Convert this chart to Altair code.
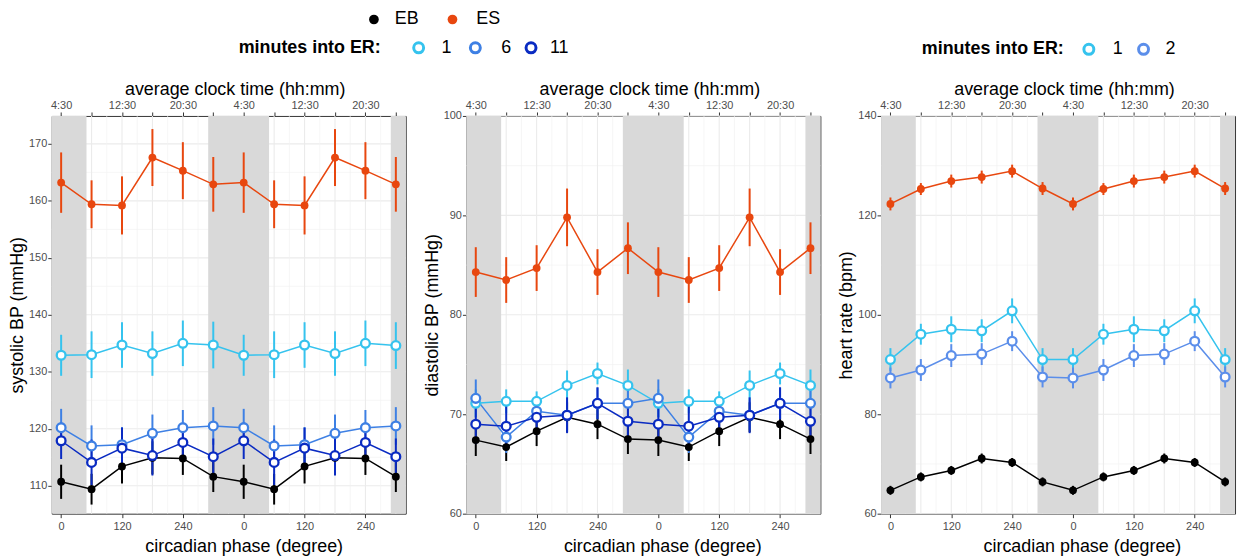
import altair as alt
import pandas as pd

# ---------------- data ----------------
PHASE = [0, 60, 120, 180, 240, 300, 360, 420, 480, 540, 600, 660]

# systolic BP (mmHg)
SYS_EB = [110.7, 109.4, 113.4, 114.9, 114.8, 111.6, 110.7, 109.4, 113.4, 114.9, 114.8, 111.6]
SYS_EB_ERR = [3.0, 2.7, 3.0, 2.9, 2.9, 2.7, 3.0, 2.7, 3.0, 2.9, 2.9, 2.7]
SYS_ES = [163.2, 159.4, 159.2, 167.6, 165.3, 162.9, 163.2, 159.4, 159.2, 167.6, 165.3, 162.9]
SYS_ES_ERR = [5.3, 4.2, 5.1, 5.0, 5.0, 4.8, 5.3, 4.2, 5.1, 5.0, 5.0, 4.8]
SYS_M1 = [132.9, 133.0, 134.7, 133.2, 135.0, 134.7, 132.9, 133.0, 134.7, 133.2, 135.0, 134.6]
SYS_M1_ERR = [3.6, 4.1, 4.0, 3.9, 4.0, 4.1, 3.6, 4.1, 4.0, 3.9, 4.0, 4.1]
SYS_M6 = [120.2, 117.0, 117.2, 119.2, 120.2, 120.5, 120.2, 117.0, 117.2, 119.2, 120.2, 120.5]
SYS_M6_ERR = [3.3, 3.6, 3.1, 3.3, 3.1, 3.3, 3.3, 3.6, 3.1, 3.3, 3.1, 3.3]
SYS_M11 = [117.9, 114.1, 116.6, 115.3, 117.6, 115.1, 117.9, 114.1, 116.6, 115.3, 117.6, 115.1]
SYS_M11_ERR = [3.2, 4.0, 3.6, 3.5, 3.3, 3.2, 3.2, 4.0, 3.6, 3.5, 3.3, 3.2]

# diastolic BP (mmHg)
DIA_EB = [67.4, 66.7, 68.3, 69.7, 69.0, 67.5, 67.4, 66.7, 68.3, 69.7, 69.0, 67.5]
DIA_EB_ERR = [1.6, 1.4, 1.5, 1.5, 1.5, 1.5, 1.6, 1.4, 1.5, 1.5, 1.5, 1.5]
DIA_ES = [84.3, 83.5, 84.7, 89.8, 84.3, 86.7, 84.3, 83.5, 84.7, 89.8, 84.3, 86.7]
DIA_ES_ERR = [2.5, 2.3, 2.3, 2.9, 2.3, 2.6, 2.5, 2.3, 2.3, 2.9, 2.3, 2.6]
DIA_M1 = [71.1, 71.3, 71.3, 72.9, 74.1, 72.9, 71.1, 71.3, 71.3, 72.9, 74.1, 72.9]
DIA_M1_ERR = [1.4, 1.2, 1.0, 1.5, 1.1, 1.6, 1.4, 1.2, 1.0, 1.5, 1.1, 1.6]
DIA_M6 = [71.6, 67.7, 70.3, 69.9, 71.1, 71.1, 71.6, 67.7, 70.3, 69.9, 71.1, 71.1]
DIA_M6_ERR = [1.9, 1.6, 1.2, 1.5, 1.6, 1.6, 1.9, 1.6, 1.2, 1.5, 1.6, 1.6]
DIA_M11 = [69.0, 68.8, 69.7, 69.9, 71.1, 69.3, 69.0, 68.8, 69.7, 69.9, 71.1, 69.3]
DIA_M11_ERR = [2.0, 2.2, 1.8, 1.8, 1.6, 1.8, 2.0, 2.2, 1.8, 1.8, 1.6, 1.8]

# heart rate (bpm)
HR_EB = [64.7, 67.4, 68.7, 71.1, 70.3, 66.4, 64.7, 67.4, 68.7, 71.1, 70.3, 66.4]
HR_EB_ERR = [0.9, 0.9, 0.9, 1.0, 0.9, 0.9, 0.9, 0.9, 0.9, 1.0, 0.9, 0.9]
HR_ES = [122.3, 125.3, 126.9, 127.7, 128.9, 125.4, 122.3, 125.3, 126.9, 127.7, 128.9, 125.4]
HR_ES_ERR = [1.3, 1.2, 1.3, 1.3, 1.3, 1.3, 1.3, 1.2, 1.3, 1.3, 1.3, 1.3]
HR_M1 = [91.0, 96.1, 97.1, 96.8, 100.8, 91.0, 91.0, 96.1, 97.1, 96.8, 100.8, 91.0]
HR_M1_ERR = [2.3, 2.1, 2.6, 2.3, 2.5, 2.3, 2.3, 2.1, 2.6, 2.3, 2.5, 2.3]
HR_M2 = [87.3, 88.9, 91.8, 92.1, 94.7, 87.5, 87.3, 88.9, 91.8, 92.1, 94.7, 87.5]
HR_M2_ERR = [2.1, 2.2, 2.3, 2.2, 2.0, 2.1, 2.1, 2.2, 2.3, 2.2, 2.0, 2.1]

# shaded (night) periods, in circadian phase degrees
SHADE_START = [-70, 290, 650]
SHADE_END = [50, 410, 770]

# axis ticks / labels
BOTTOM_TICKS = [0, 120, 240, 360, 480, 600]
BOTTOM_LABELS = ["0", "120", "240", "0", "120", "240"]
TOP_TICKS = [0, 60, 120, 180, 240, 300, 360, 420, 480, 540, 600, 660]
TOP_LABELS = ["4:30", "", "12:30", "", "20:30", "", "4:30", "", "12:30", "", "20:30", ""]

SERIES = ["EB", "ES", "1", "6", "11", "2"]
SERIES_COLORS = ["#000000", "#E8470F", "#35C3EE", "#3E80E4", "#0A2BC2", "#5B8EEA"]

# ---------------- styling ----------------
FONT = "Liberation Sans"
W, H = 356, 400
X_DOMAIN = [-18.5, 679.5]
color_scale = alt.Scale(domain=SERIES, range=SERIES_COLORS)
GRID_X_MAJOR = list(range(0, 661, 60))
GRID_X_MINOR = list(range(30, 661, 60))


def label_expr(vals, labels):
    arr = "[" + ",".join("'" + l + "'" for l in labels) + "]"
    idx = "[" + ",".join(str(v) for v in vals) + "]"
    return arr + "[indexof(" + idx + ", datum.value)]"


def make_df(series):
    rows = []
    for name, vals, errs in series:
        for p, v, e in zip(PHASE, vals, errs):
            rows.append({"phase": p, "value": v, "lo": v - e, "hi": v + e,
                         "series": name,
                         "kind": "group" if name in ("EB", "ES") else "minute"})
    return pd.DataFrame(rows)


def legend_layers(items):
    layers = []
    for kind, label, px, py in items:
        d = pd.DataFrame({"series": [label], "txt": [label]})
        if kind == "dot":
            layers.append(alt.Chart(d).mark_point(filled=True, size=95, opacity=1).encode(
                x=alt.value(px), y=alt.value(py),
                color=alt.Color("series:N", scale=color_scale, legend=None)))
        elif kind == "ring":
            layers.append(alt.Chart(d).mark_point(filled=False, fill="white", size=100,
                                                  strokeWidth=3, opacity=1).encode(
                x=alt.value(px), y=alt.value(py),
                stroke=alt.Stroke("series:N", scale=color_scale, legend=None)))
        elif kind == "text":
            layers.append(alt.Chart(d).mark_text(align="left", baseline="middle", fontSize=18,
                                                 font=FONT, color="#000000").encode(
                x=alt.value(px), y=alt.value(py), text="txt:N"))
        elif kind == "title":
            layers.append(alt.Chart(d).mark_text(align="left", baseline="middle", fontSize=18,
                                                 font=FONT, fontWeight="bold",
                                                 color="#000000").encode(
                x=alt.value(px), y=alt.value(py), text="txt:N"))
    return layers


def panel(df, ydom, ymajor, yminor, ytitle, btitle_x, legend):
    xs = alt.Scale(domain=X_DOMAIN, nice=False, zero=False)
    ys = alt.Scale(domain=ydom, nice=False, zero=False)
    bottom_axis = alt.Axis(orient="bottom", values=BOTTOM_TICKS,
                           labelExpr=label_expr(BOTTOM_TICKS, BOTTOM_LABELS),
                           title="circadian phase (degree)", grid=False, domain=False,
                           tickSize=4, labelPadding=3, titlePadding=6, labelOverlap=False,
                           labelFlush=False, titleX=btitle_x)
    top_axis = alt.Axis(orient="top", values=TOP_TICKS,
                        labelExpr=label_expr(TOP_TICKS, TOP_LABELS),
                        title="average clock time (hh:mm)", grid=False, domain=False,
                        tickSize=4, labelPadding=1, titlePadding=2, labelOverlap=False,
                        labelFlush=False, titleX=184)
    y_axis = alt.Axis(orient="left", values=ymajor, title=ytitle, grid=False, domain=False,
                      tickSize=4, labelPadding=1, titlePadding=2, labelOverlap=False,
                      labelFlush=False)

    hmaj = alt.Chart(pd.DataFrame({"g": ymajor})).mark_rule(
        color="#EBEBEB", strokeWidth=1.1).encode(y=alt.Y("g:Q", scale=ys, axis=y_axis))
    hmin = alt.Chart(pd.DataFrame({"g": yminor})).mark_rule(
        color="#F2F2F2", strokeWidth=0.7).encode(y=alt.Y("g:Q", scale=ys, axis=None))
    vmin = alt.Chart(pd.DataFrame({"g": GRID_X_MINOR})).mark_rule(
        color="#F2F2F2", strokeWidth=0.7).encode(x=alt.X("g:Q", scale=xs, axis=None))
    vmaj = alt.Chart(pd.DataFrame({"g": GRID_X_MAJOR})).mark_rule(
        color="#EBEBEB", strokeWidth=1.1).encode(x=alt.X("g:Q", scale=xs, axis=bottom_axis))
    shade = alt.Chart(pd.DataFrame({"s": SHADE_START, "e": SHADE_END})).mark_rect(
        color="#D9D9D9", clip=True).encode(x=alt.X("s:Q", scale=xs, axis=top_axis), x2="e:Q")

    base = alt.Chart(df)
    ex = alt.X("phase:Q", scale=xs, axis=None)
    col = alt.Color("series:N", scale=color_scale, legend=None)
    err = base.mark_rule(strokeWidth=2).encode(
        x=ex, y=alt.Y("lo:Q", scale=ys, axis=None), y2="hi:Q", color=col)
    line = base.mark_line(strokeWidth=1.5).encode(
        x=ex, y=alt.Y("value:Q", scale=ys, axis=None), color=col)
    dots = base.transform_filter("datum.kind == 'group'").mark_point(
        filled=True, size=62, opacity=1).encode(
        x=ex, y=alt.Y("value:Q", scale=ys, axis=None), color=col)
    rings = base.transform_filter("datum.kind == 'minute'").mark_point(
        filled=False, fill="white", size=78, strokeWidth=2.3, opacity=1).encode(
        x=ex, y=alt.Y("value:Q", scale=ys, axis=None),
        stroke=alt.Stroke("series:N", scale=color_scale, legend=None))

    return alt.layer(hmaj, hmin, vmin, vmaj, shade, err, line, dots, rings,
                     *legend).resolve_axis(x="independent", y="independent").properties(
        width=W, height=H)


sys_df = make_df([("EB", SYS_EB, SYS_EB_ERR), ("ES", SYS_ES, SYS_ES_ERR),
                  ("1", SYS_M1, SYS_M1_ERR), ("6", SYS_M6, SYS_M6_ERR),
                  ("11", SYS_M11, SYS_M11_ERR)])
dia_df = make_df([("EB", DIA_EB, DIA_EB_ERR), ("ES", DIA_ES, DIA_ES_ERR),
                  ("1", DIA_M1, DIA_M1_ERR), ("6", DIA_M6, DIA_M6_ERR),
                  ("11", DIA_M11, DIA_M11_ERR)])
hr_df = make_df([("EB", HR_EB, HR_EB_ERR), ("ES", HR_ES, HR_ES_ERR),
                 ("1", HR_M1, HR_M1_ERR), ("2", HR_M2, HR_M2_ERR)])

leg1 = legend_layers([
    ("dot", "EB", 324, -97), ("text", "EB", 345, -97),
    ("dot", "ES", 403, -97), ("text", "ES", 427, -97),
    ("title", "minutes into ER:", 188, -68.5),
    ("ring", "1", 369, -68.5), ("text", "1", 392, -68.5),
    ("ring", "6", 426, -68.5), ("text", "6", 452, -68.5),
    ("ring", "11", 482, -68.5), ("text", "11", 501, -68.5),
])
leg3 = legend_layers([
    ("title", "minutes into ER:", 41, -67),
    ("ring", "1", 209, -67), ("text", "1", 233, -67),
    ("ring", "2", 264, -67), ("text", "2", 286, -67),
])

p1 = panel(sys_df, [105.1, 174.9], [110, 120, 130, 140, 150, 160, 170],
           [115, 125, 135, 145, 155, 165], "systolic BP (mmHg)", 193, leg1)
p2 = panel(dia_df, [60, 100], [60, 70, 80, 90, 100], [65, 75, 85, 95],
           "diastolic BP (mmHg)", 197, [])
p3 = panel(hr_df, [60, 140], [60, 80, 100, 120, 140], [70, 90, 110, 130],
           "heart rate (bpm)", 202, leg3)

chart = alt.hconcat(p1, p2, p3, spacing=61, bounds="flush").properties(
    padding={"left": 0, "top": 0, "right": 2, "bottom": 0}
).configure(font=FONT).configure_view(
    stroke="#333333", strokeWidth=1
).configure_axis(
    labelColor="#4D4D4D", labelFontSize=11, labelFont=FONT,
    titleFontSize=18, titleFontWeight="normal", titleColor="#000000", titleFont=FONT,
    tickColor="#333333", tickWidth=1
)

chart.save("out.html", embed_options={"renderer": "svg", "actions": False})
